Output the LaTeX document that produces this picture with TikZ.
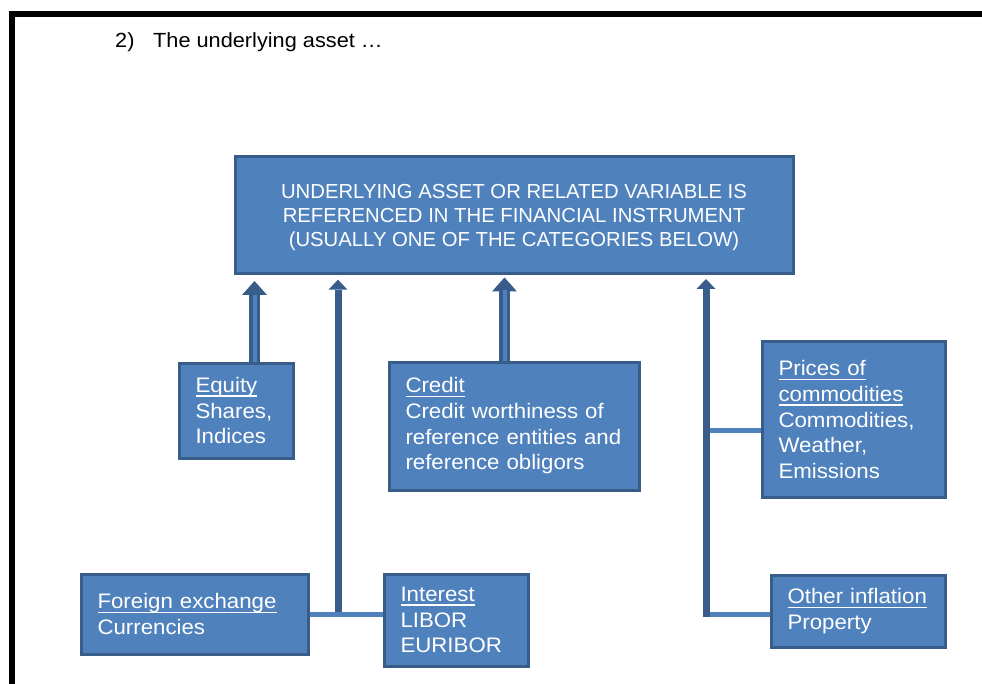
\documentclass[tikz,border=0pt]{standalone}
\usepackage{fontspec}
\setmainfont{Liberation Sans}
\newfontfamily\widesans{Liberation Sans}[FakeStretch=1.06]
\usetikzlibrary{arrows.meta}
\definecolor{boxfill}{HTML}{4F81BD}
\definecolor{boxline}{HTML}{385D8A}
\newsavebox\undlbox
\newcommand\undl[1]{\leavevmode\sbox\undlbox{#1}\rlap{\rule[-4.5pt]{\wd\undlbox}{1.5pt}}\usebox\undlbox}
\begin{document}
\begin{tikzpicture}[x=1pt, y=-1pt,
  cat/.style={draw=boxline, fill=boxfill, line width=3pt, text=white,
    inner xsep=16.5pt, inner ysep=0pt, align=left, anchor=north west,
    font=\widesans\fontsize{21}{25.7}\selectfont},
  headbox/.style={draw=boxline, fill=boxfill, line width=3pt, anchor=north west},
  shaft/.style={draw=boxline, line width=7pt,
    -{Triangle[width=19pt,length=10pt,line width=0pt]}},
  wideshaft/.style={draw=boxline, line width=11pt,
    -{Triangle[width=25pt,length=14pt,line width=0pt]}},
  shaftcore/.style={draw=boxfill, line width=4pt},
  link/.style={draw=boxfill, line width=5pt}]
\useasboundingbox (0,0) rectangle (982,684);

% page frame, running off the right and bottom edges
\begin{scope}
  \clip (0,0) rectangle (982,684);
  \draw[line width=6pt] (11.5,700) -- (11.5,14.5) -- (1000,14.5);
\end{scope}

\node[anchor=base west, inner sep=0pt, font=\widesans\fontsize{20.5}{24}\selectfont] (title)
  at (115,48) {\makebox[38pt][l]{2)}The underlying asset …};

% boxes
\node[headbox, minimum width=558pt, minimum height=117pt] (top) at (233.5,155.5) {};
\node[text=white, align=center, font=\fontsize{20.3}{24}\selectfont] (toptxt)
  at ([yshift=-2pt]top.center) {UNDERLYING ASSET OR RELATED VARIABLE IS\\
  REFERENCED IN THE FINANCIAL INSTRUMENT\\
  (USUALLY ONE OF THE CATEGORIES BELOW)};

\node[cat, text width=81pt, minimum height=95pt] (eq) at (177.5,361.5)
  {\undl{Equity}\\Shares,\\Indices};
\node[cat, text width=217pt, minimum height=128pt] (credit) at (387.5,360.5)
  {\undl{Credit}\\Credit worthiness of\\reference entities and\\reference obligors};
\node[cat, text width=150pt, minimum height=155pt] (prices) at (760.5,340.5)
  {\undl{Prices of}\\\undl{commodities}\\Commodities,\\Weather,\\Emissions};
\node[cat, text width=194pt, minimum height=80pt] (forex) at (79.5,572.5)
  {\undl{Foreign exchange}\\Currencies};
\node[cat, text width=111pt, minimum height=92pt] (interest) at (382.5,572.5)
  {\undl{Interest}\\LIBOR\\EURIBOR};
\node[cat, text width=141pt, minimum height=72pt] (other) at (769.5,573.5)
  {\undl{Other inflation}\\Property};

% connector positions
\coordinate (eqx) at (254.5,0);
\coordinate (crx) at (504.5,0);
\coordinate (fxj) at (338,614.5);
\coordinate (rj) at (706,616.5);
\coordinate (pj) at (706,430);
\coordinate (oj) at (706,614.5);

% broad arrows from Equity and Credit
\draw[wideshaft, shorten >=5.5pt] (eq.north -| eqx) -- (top.south -| eqx);
\draw[shaftcore, shorten >=19.5pt] (eq.north -| eqx) -- (top.south -| eqx);
\draw[wideshaft, shorten >=2pt] (credit.north -| crx) -- (top.south -| crx);
\draw[shaftcore, shorten >=15pt] (credit.north -| crx) -- (top.south -| crx);

% foreign exchange and interest
\draw[shaft, shorten >=4.2pt] ([yshift=2pt]fxj) -- (fxj |- top.south);
\draw[link] (forex.east |- fxj) -- (interest.west |- fxj);

% commodities and inflation
\draw[link] (pj) -- (prices.west |- pj);
\draw[link] (oj) -- (other.west |- oj);
\draw[shaft, shorten >=3.5pt] (rj) -- (rj |- top.south);
\end{tikzpicture}
\end{document}
